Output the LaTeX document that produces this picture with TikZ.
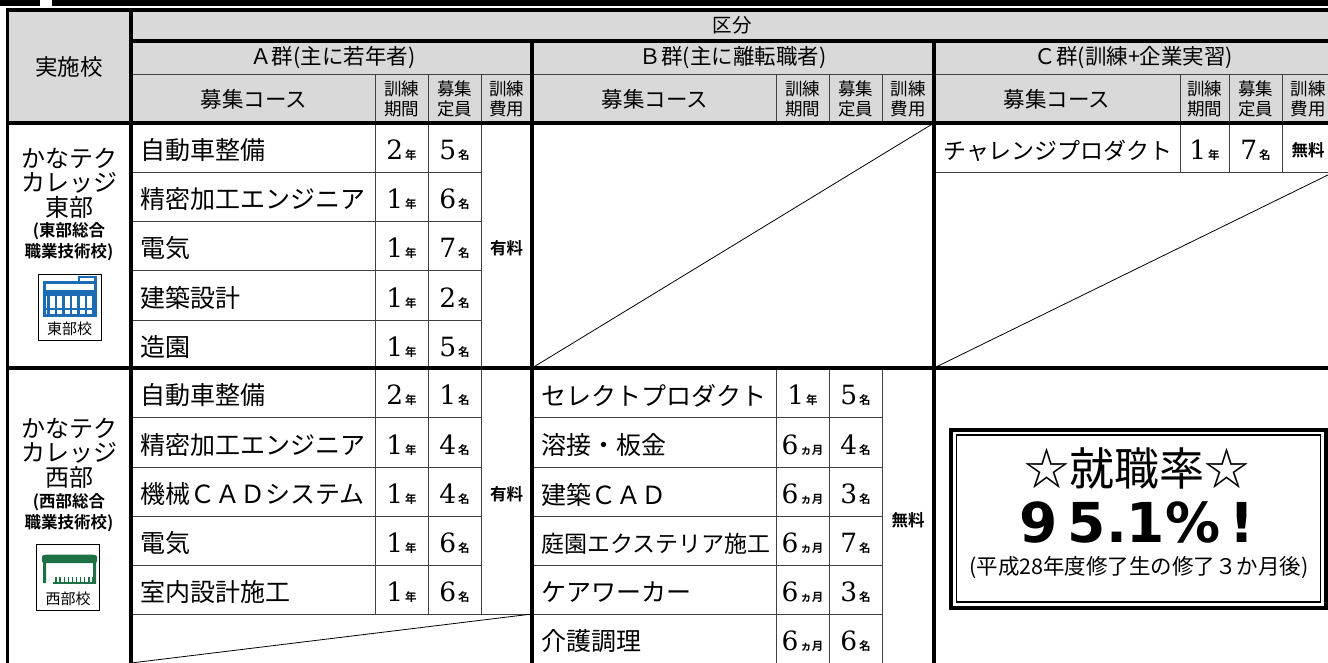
\documentclass[tikz,border=0pt]{standalone}
\usepackage{fontspec}
\newfontfamily\jp{Noto Sans CJK JP}
\newfontfamily\jpb{Noto Sans CJK JP Bold}
\newfontfamily\dserif{DejaVu Serif}
\newfontfamily\dsansb{DejaVu Sans Bold}
\newcommand\fs[1]{\fontsize{#1}{#1}\selectfont}
\newcommand\amt[2]{{\dserif\fs{26.5}#1}\hspace{2pt}{\jpb\fs{11.5}#2}}
\definecolor{hdrgray}{HTML}{D9D9D9}
\definecolor{icblue}{HTML}{1C6CB4}
\definecolor{icgreen}{HTML}{1E7145}
\begin{document}
\begin{tikzpicture}[x=1pt,y=-1pt,
  thickl/.style={line width=3.6pt,black},
  thinl/.style={line width=0.9pt,black!75},
  diag/.style={line width=0.8pt,black},
  course/.style={anchor=west,inner sep=0pt,font=\jp\fs{25}},
  cnum/.style={inner sep=0pt,anchor=center},
  fee/.style={inner sep=0pt,font=\jpb\fs{16.5}},
  hdrtxt/.style={inner sep=0pt,font=\jp\fs{21.5}},
  hdrsmall/.style={inner sep=0pt,align=center,font=\jp\fontsize{17.5}{20}\selectfont},
  school/.style={inner sep=0pt,align=center,font=\jp\fontsize{24}{24.5}\selectfont},
  schoolsub/.style={inner sep=0pt,align=center,font=\jpb\fontsize{16.5}{21}\selectfont},
  iconbox/.style={draw,line width=1pt,minimum width=63pt,minimum height=66pt,inner sep=0pt},
  icontxt/.style={inner sep=0pt,font=\jp\fs{15}}
]
\useasboundingbox (0,0) rectangle (1328,662);
\fill[white] (0,0) rectangle (1328,662);
\clip (0,0) rectangle (1328,662);
% top bars
\fill[black] (0,0) rectangle (40,6);
\fill[black] (52,0) rectangle (1328,6);
% header fill
\fill[hdrgray] (7.5,10) rectangle (1340,123);

% ---------- header thin lines
\draw[thinl] (131,74) -- (1340,74);
\foreach \x in {375,428,481,776,829,882,1180,1229,1282}
  \draw[thinl] (\x,74) -- (\x,123);

% ---------- body thin lines
% East A
\foreach \y in {172,221,270,320} \draw[thinl] (131,\y) -- (481,\y);
\foreach \x in {375,428,481} \draw[thinl] (\x,123) -- (\x,368);
% West A
\foreach \y in {417,467,516,565} \draw[thinl] (131,\y) -- (481,\y);
\draw[thinl] (131,614) -- (532,614);
\foreach \x in {375,428,481} \draw[thinl] (\x,368) -- (\x,614);
% West B
\foreach \y in {417,467,516,565,614} \draw[thinl] (532,\y) -- (882,\y);
\foreach \x in {776,829,882} \draw[thinl] (\x,368) -- (\x,670);
% East C
\draw[thinl] (934,172) -- (1340,172);
\foreach \x in {1180,1229,1282} \draw[thinl] (\x,123) -- (\x,172);

% diagonals
\draw[diag] (532,368) -- (934,123);
\draw[diag] (934,368) -- (1334,172);
\draw[diag] (131,663) -- (532,614);

% ---------- thick lines
\draw[thickl] (6,10) -- (1340,10);
\draw[thickl] (7.5,10) -- (7.5,670);
\draw[thickl] (131,10) -- (131,670);
\draw[thickl] (131,41) -- (1340,41);
\draw[thickl] (532,41) -- (532,670);
\draw[thickl] (934,41) -- (934,670);
\draw[thickl] (6,123) -- (1340,123);
\draw[thickl] (6,368) -- (1340,368);

% ---------- header texts
\node[inner sep=0pt,font=\jp\fs{19.5}] (kubun) at (732,25.5) {区分};
\node[inner sep=0pt,font=\jp\fs{22.5}] (jisshi) at (69,67) {実施校};
\node[hdrtxt] (ga) at (333,58) {Ａ群(主に若年者)};
\node[hdrtxt] (gb) at (733,58) {Ｂ群(主に離転職者)};
\node[hdrtxt] (gc) at (1134,58) {Ｃ群(訓練+企業実習)};
\foreach \g/\xa/\xb/\xc/\xd in {a/254/401.5/454.5/506.5, b/655/802.5/855.5/908, c/1057/1204.5/1255.5/1308}{
  \node[hdrtxt] (course\g) at (\xa,99) {募集コース};
  \node[hdrsmall] (kikan\g) at (\xb,98.5) {訓練\\期間};
  \node[hdrsmall] (teiin\g) at (\xc,98.5) {募集\\定員};
  \node[hdrsmall] (hiyo\g) at (\xd,98.5) {訓練\\費用};
}

% ---------- East A rows
\foreach \yc/\name/\p/\q [count=\i] in {150.5/自動車整備/2/5, 199.5/精密加工エンジニア/1/6, 248.5/電気/1/7, 298/建築設計/1/2, 347/造園/1/5}{
  \node[course] (eac\i) at (140,\yc) {\name};
  \node[cnum] (eap\i) at (401.5,\yc) {\amt{\p}{年}};
  \node[cnum] (eaq\i) at (454.5,\yc) {\amt{\q}{名}};
}
\node[fee] (eafee) at (506.5,248) {有料};

% ---------- West A rows
\foreach \yc/\name/\p/\q [count=\i] in {395.5/自動車整備/2/1, 445/精密加工エンジニア/1/4, 494.5/機械ＣＡＤシステム/1/4, 543.5/電気/1/6, 592.5/室内設計施工/1/6}{
  \node[course] (wac\i) at (140,\yc) {\name};
  \node[cnum] (wap\i) at (401.5,\yc) {\amt{\p}{年}};
  \node[cnum] (waq\i) at (454.5,\yc) {\amt{\q}{名}};
}
\node[fee] (wafee) at (506.5,494) {有料};

% ---------- West B rows
\foreach \yc/\name/\p/\u/\q [count=\i] in {395.5/セレクトプロダクト/1/年/5, 445/溶接・板金/6/ヵ月/4, 494.5/建築ＣＡＤ/6/ヵ月/3, 543.5/{\fs{23}庭園エクステリア施工}/6/ヵ月/7, 592.5/ケアワーカー/6/ヵ月/3, 641.5/介護調理/6/ヵ月/6}{
  \node[course] (wbc\i) at (541,\yc) {\name};
  \node[cnum] (wbp\i) at (802.5,\yc) {\amt{\p}{\u}};
  \node[cnum] (wbq\i) at (855.5,\yc) {\amt{\q}{名}};
}
\node[fee] (wbfee) at (908,520) {無料};

% ---------- East C row
\node[course,font=\jp\fs{23}] (ecc1) at (943,150.5) {チャレンジプロダクト};
\node[cnum] (ecp1) at (1204.5,150.5) {\amt{1}{年}};
\node[cnum] (ecq1) at (1255.5,150.5) {\amt{7}{名}};
\node[fee] (ecfee) at (1308,150.5) {無料};

% ---------- school names
\node[school] (east) at (69,183) {かなテク\\カレッジ\\東部};
\node[schoolsub] (eastsub) at (69,242) {(東部総合\\職業技術校)};
\node[school] (west) at (69,453) {かなテク\\カレッジ\\西部};
\node[schoolsub] (westsub) at (69,513) {(西部総合\\職業技術校)};

% ---------- icons
\node[iconbox] (eicon) at (69.5,307) {};
\begin{scope}[icblue]
  \draw[line width=3pt] (44.5,282) rectangle (95.5,315);
  \draw[line width=2.4pt] (79,277) rectangle (95.5,282);
  \fill (44,290) rectangle (96,295.5);
  \foreach \k in {0,...,6} \draw[line width=2.6pt] (48.5+7.5*\k,295) -- (48.5+7.5*\k,315);
  \draw[line width=2pt] (44,309) -- (96,309);
\end{scope}
\node[icontxt] (eicontxt) at (69.5,329) {東部校};

\node[iconbox] (wicon) at (68,577) {};
\begin{scope}[icgreen]
  \draw[line width=3pt,rounded corners=2pt] (44.5,583) -- (44.5,556) -- (94.5,556) -- (94.5,583);
  \fill[rounded corners=2pt] (42,555) rectangle (97,563);
  \draw[line width=2.6pt] (53,583) -- (95.5,583);
  \foreach \k in {0,...,9} \draw[line width=1.4pt] (56+4.1*\k,577) -- (56+4.1*\k,583);
\end{scope}
\node[icontxt] (wicontxt) at (68,599) {西部校};

% ---------- employment box
\node[draw,line width=4pt,minimum width=375pt,minimum height=178pt,inner sep=0pt] (boxout) at (1138.5,518.5) {};
\node[draw,line width=1.1pt,minimum width=364pt,minimum height=167pt,inner sep=0pt] (boxin) at (1138.5,518.5) {};
\node[inner sep=0pt,font=\jp\fs{45}] (rate) at (1137,468) {☆就職率☆};
\node[inner sep=0pt,font=\dsansb\fs{55}] (pct) at (1137,522) {9\hspace{10pt}5.1\%\hspace{9pt}!};
\node[inner sep=0pt,font=\jp\fs{21.5}] (note) at (1139,568) {(平成28年度修了生の修了３か月後)};
\end{tikzpicture}
\end{document}
